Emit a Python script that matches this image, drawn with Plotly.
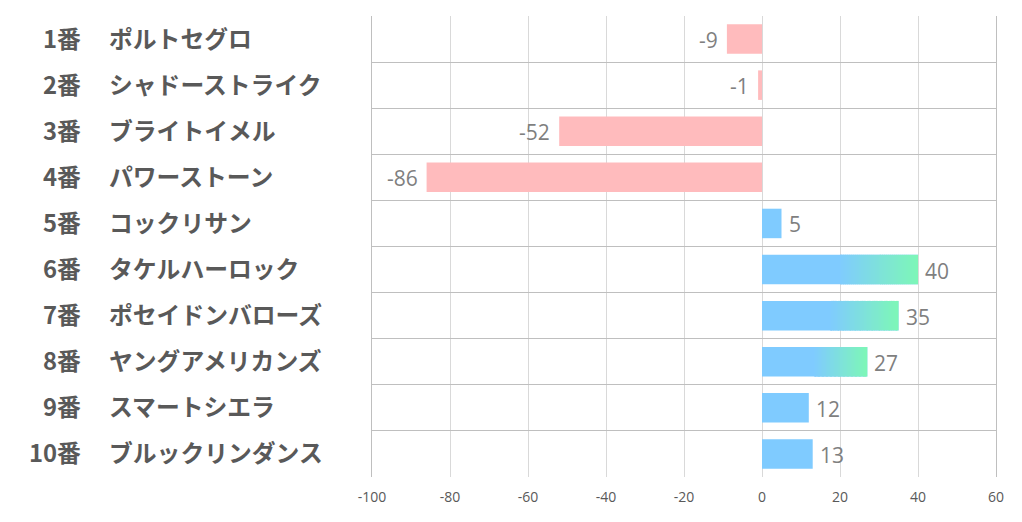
import plotly.graph_objects as go

numbers = ["1番", "2番", "3番", "4番", "5番", "6番", "7番", "8番", "9番", "10番"]
names = ["ポルトセグロ", "シャドーストライク", "ブライトイメル", "パワーストーン", "コックリサン",
         "タケルハーロック", "ポセイドンバローズ", "ヤングアメリカンズ", "スマートシエラ", "ブルックリンダンス"]
values = [-9, -1, -52, -86, 5, 40, 35, 27, 12, 13]
gradient_flag = [False, False, False, False, False, True, True, True, False, False]
x_ticks = [-100, -80, -60, -40, -20, 0, 20, 40, 60]

PINK = (255, 187, 189)
BLUE = (127, 203, 255)
GREEN = (125, 247, 183)

def rgb(c):
    return "rgb(%d,%d,%d)" % c

L, R, T, B = 372, 26, 16, 45
W, H = 1022, 522
plot_w = W - L - R

ypos = list(range(len(values)))
colors = [rgb(PINK) if v < 0 else rgb(BLUE) for v in values]

fig = go.Figure()
fig.add_trace(go.Bar(
    x=values, y=ypos, orientation="h", width=0.64,
    marker=dict(color=colors, line=dict(width=0)),
    hoverinfo="skip", showlegend=False,
))

# gradient overlay (second half of the bar fades from blue to green)
NSEG = 40
for i, (v, g) in enumerate(zip(values, gradient_flag)):
    if not g:
        continue
    start = v * 0.5
    seg = (v - start) / NSEG
    bases, lens, cols = [], [], []
    for k in range(NSEG):
        t = (k + 0.5) / NSEG
        c = tuple(round(BLUE[j] + (GREEN[j] - BLUE[j]) * t) for j in range(3))
        bases.append(start + k * seg)
        lens.append(seg * 1.02)
        cols.append(rgb(c))
    fig.add_trace(go.Bar(
        x=lens, y=[i] * NSEG, base=bases, orientation="h", width=0.64,
        marker=dict(color=cols, line=dict(width=0)),
        hoverinfo="skip", showlegend=False,
    ))

annotations = []
num_x = (83 - L) / plot_w
name_x = (107 - L) / plot_w
LABEL_FONT = dict(family="Noto Sans CJK JP", size=23.8, weight=600, color="#595959")
for i in ypos:
    annotations.append(dict(x=num_x, y=i, xref="paper", yref="y", text=numbers[i],
                            showarrow=False, xanchor="right", yanchor="middle", yshift=2,
                            font=LABEL_FONT))
    annotations.append(dict(x=name_x, y=i, xref="paper", yref="y", text=names[i],
                            showarrow=False, xanchor="left", yanchor="middle", yshift=2,
                            font=LABEL_FONT))
    v = values[i]
    annotations.append(dict(x=v, y=i, xref="x", yref="y", text=str(v), showarrow=False,
                            xanchor="left" if v >= 0 else "right", yanchor="middle",
                            xshift=5 if v >= 0 else -7, yshift=-1,
                            font=dict(family="Open Sans, sans-serif", size=21, color="#7f7f7f")))

fig.update_layout(
    width=W, height=H,
    margin=dict(l=L, r=R, t=T, b=B),
    paper_bgcolor="white", plot_bgcolor="white",
    barmode="overlay",
    annotations=annotations,
    xaxis=dict(range=[-100, 60], tickvals=x_ticks, ticktext=[str(t) for t in x_ticks],
               showgrid=True, gridcolor="#d9d9d9", gridwidth=1, zeroline=False,
               showline=False, ticks="", ticklabelstandoff=10,
               tickfont=dict(family="Open Sans, sans-serif", size=14, color="#595959"), fixedrange=True),
    yaxis=dict(range=[len(values) - 0.5, -0.5], tickvals=[k - 0.5 for k in range(len(values) + 1)],
               showticklabels=False, showgrid=True, gridcolor="#bfbfbf", gridwidth=1,
               zeroline=False, showline=True, mirror=True, linecolor="#bfbfbf", linewidth=1,
               ticks="", fixedrange=True),
)

fig.write_html("out.html")
